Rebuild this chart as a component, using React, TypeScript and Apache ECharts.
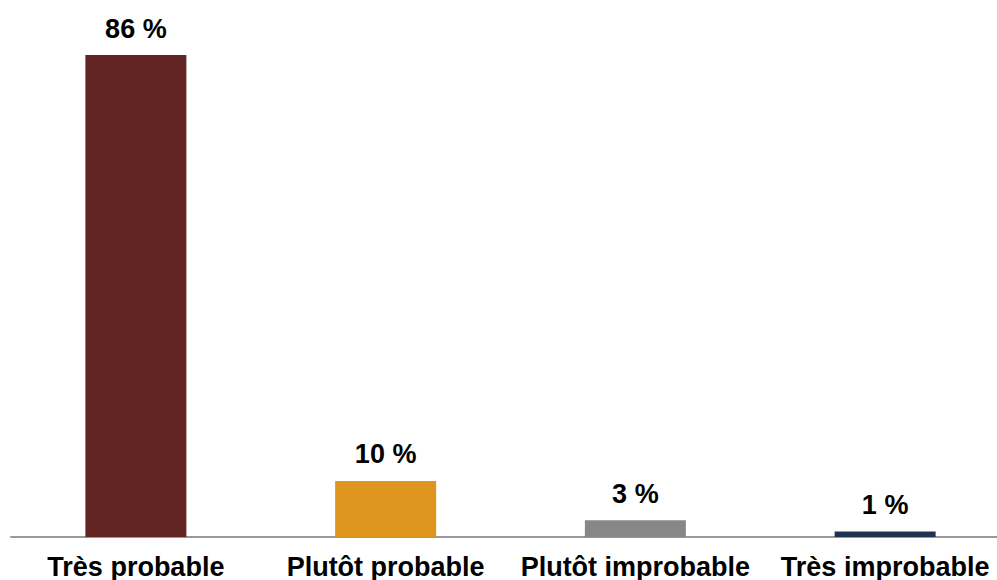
import React, { useEffect, useRef } from "react";
import * as echarts from "echarts";

const categories = ["Très probable", "Plutôt probable", "Plutôt improbable", "Très improbable"];
const values = [86, 10, 3, 1];
const colors = ["#632523", "#DE961F", "#878787", "#1F3250"];

export default function App() {
  const ref = useRef<HTMLDivElement>(null);
  useEffect(() => {
    if (!ref.current) return;
    const chart = echarts.init(ref.current, null, { renderer: "svg" });
    chart.setOption({
      animation: false,
      grid: { left: 11, width: 999, top: 55, bottom: 43, containLabel: false, outerBoundsMode: "none" },
      xAxis: {
        type: "category",
        data: categories,
        axisLine: { show: true, lineStyle: { color: "#999999", width: 2 } },
        axisTick: { show: false },
        axisLabel: {
          interval: 0,
          margin: 16,
          fontFamily: "Liberation Sans, Arial, sans-serif",
          fontWeight: "bold",
          fontSize: 27,
          color: "#000",
        },
      },
      yAxis: {
        type: "value",
        min: 0,
        max: 86,
        show: false,
        splitLine: { show: false },
      },
      series: [
        {
          type: "bar",
          barWidth: 101,
          data: values.map((v, i) => ({ value: v, itemStyle: { color: colors[i] } })),
          label: {
            show: true,
            position: "top",
            distance: 13,
            formatter: (p: any) => `${p.value} %`,
            fontFamily: "Liberation Sans, Arial, sans-serif",
            fontWeight: "bold",
            fontSize: 27,
            color: "#000",
          },
        },
      ],
    });
    return () => chart.dispose();
  }, []);
  return <div ref={ref} style={{ position: "absolute", left: 0, top: 0, width: 997, height: 580 }} />;
}
